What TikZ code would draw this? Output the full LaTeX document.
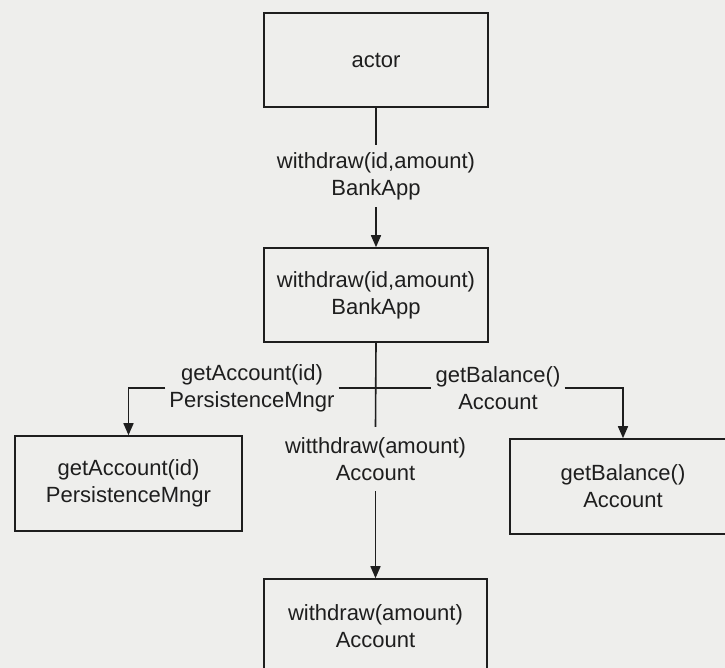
\documentclass[tikz,border=0pt]{standalone}
\usepackage{fontspec}
\setmainfont{Liberation Sans}
\usetikzlibrary{arrows.meta}
\definecolor{paper}{RGB}{238,238,236}
\definecolor{ink}{RGB}{30,30,30}
\tikzset{
  box/.style={draw=ink, line width=1.6pt, inner sep=0pt, align=center,
              text=ink, font=\fontsize{22}{27}\selectfont},
  lbl/.style={inner xsep=4pt, inner ysep=0pt, align=center, text=ink,
              font=\fontsize{22}{27}\selectfont},
  wire/.style={draw=ink, line width=1.6pt},
  arr/.style={wire, -{Triangle[length=12pt,width=10pt]}}
}
\begin{document}
\begin{tikzpicture}[x=1pt, y=-1pt]
  \clip (0,0) rectangle (725,668);
  \fill[paper] (0,0) rectangle (725,668);

  % call boxes
  \node[box, minimum width=224pt, minimum height=94pt] (actor) at (376,60) {actor};
  \node[box, minimum width=224pt, minimum height=94pt] (bank) at (376,295)
       {withdraw(id,amount)\\BankApp};
  \node[box, minimum width=227pt, minimum height=95pt] (persist) at (128.5,483.5)
       {getAccount(id)\\PersistenceMngr};
  \node[box, minimum width=226pt, minimum height=95pt] (balance) at (623,486.5)
       {getBalance()\\Account};
  \node[box, minimum width=223pt, minimum height=94pt] (acct) at (375.5,626)
       {withdraw(amount)\\Account};

  % message labels on the connectors
  \node[lbl, minimum height=62pt] (m1) at (376,176) {withdraw(id,amount)\\BankApp};
  \node[lbl] (getA) at (252,388) {getAccount(id)\\PersistenceMngr};
  \node[lbl] (getB) at (498,388) {getBalance()\\Account};
  \node[lbl, minimum height=64pt] (mid) at (375.5,459) {witthdraw(amount)\\Account};

  % connectors
  \draw[wire] (actor.south) -- (m1.north);
  \draw[arr] (m1.south) -- (bank.north);
  \draw[wire] (bank.south) -- (mid.north);
  \draw[arr] (mid.south) -- (acct.north);
  \draw[wire] (getA.east) -- (getB.west);
  \draw[arr] (getA.west) -| (persist.north);
  \draw[arr] (getB.east) -| (balance.north);
\end{tikzpicture}
\end{document}
